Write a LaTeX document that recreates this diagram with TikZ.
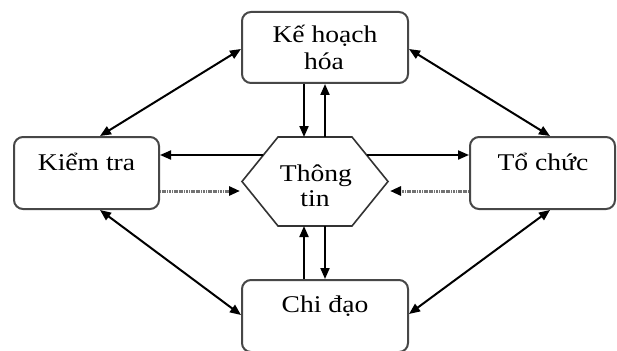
\documentclass[tikz,border=0pt]{standalone}
\usepackage{fontspec}
\setmainfont{Liberation Serif}
\usetikzlibrary{arrows.meta}
\newcommand\wtxt[1]{\scalebox{1.15}[1]{#1}}
\begin{document}
\begin{tikzpicture}[x=1pt,y=-1pt,
  box/.style={draw=black!72, line width=2pt, rounded corners=9pt, fill=white, inner sep=0pt},
  lbl/.style={font=\fontsize{24}{27}\selectfont, anchor=base, inner sep=0pt},
  tip/.style={-{Triangle[length=11pt,width=9pt,color=black]}},
  arr/.style={line width=2pt, tip},
  darr/.style={line width=2pt, {Triangle[length=11pt,width=9pt]}-{Triangle[length=11pt,width=9pt]}},
  dotarr/.style={line width=3pt, draw=black!55, dash pattern=on 1.2pt off 0.5pt, tip}]
\useasboundingbox (0,0) rectangle (617,350);

% boxes
\node[box, minimum width=166pt, minimum height=71pt] (plan) at (325,47.5) {};
\node[box, minimum width=145pt, minimum height=72pt] (kt) at (86.5,173) {};
\node[box, minimum width=145pt, minimum height=72pt] (tc) at (542.5,173) {};
\node[box, minimum width=166pt, minimum height=72pt] (cd) at (325,316) {};

% hexagon
\coordinate (hl) at (242,181.5);
\coordinate (htl) at (278,137);
\coordinate (htr) at (352,137);
\coordinate (hr) at (388,181.5);
\coordinate (hbr) at (352,226);
\coordinate (hbl) at (278,226);
\draw[draw=black!80, line width=1.6pt, fill=white] (hl) -- (htl) -- (htr) -- (hr) -- (hbr) -- (hbl) -- cycle;

% labels
\node[lbl] (t1) at (325,43) {\wtxt{Kế hoạch}};
\node[lbl] (t2) at (324,70) {\wtxt{hóa}};
\node[lbl] (t3) at (86.5,170) {\wtxt{Kiểm tra}};
\node[lbl] (t4) at (543,170) {\wtxt{Tổ chức}};
\node[lbl] (t5) at (316,181) {\wtxt{Thông}};
\node[lbl] (t6) at (315,206) {\wtxt{tin}};
\node[lbl] (t7) at (325,312) {\wtxt{Chi đạo}};

% vertical arrows
\coordinate (va) at (304,137);
\coordinate (vb) at (325,137);
\coordinate (vc) at (304,226);
\coordinate (vd) at (325,226);
\draw[arr] (va |- plan.south) -- (va);
\draw[arr] (vb) -- (vb |- plan.south);
\draw[arr] (vc |- cd.north) -- (vc);
\draw[arr] (vd) -- (vd |- cd.north);

% horizontal arrows
\coordinate (hs1) at (263,155);
\coordinate (hs2) at (367,155);
\coordinate (hd1) at (240,191);
\coordinate (hd2) at (390,191);
\draw[arr] (hs1) -- (hs1 -| kt.east);
\draw[arr] (hs2) -- (hs2 -| tc.west);
\draw[dotarr] (hd1 -| kt.east) -- (hd1);
\draw[dotarr] (hd2 -| tc.west) -- (hd2);

% diagonal arrows
\draw[darr] ([yshift=-1.5pt]plan.west) -- ([xshift=13.5pt]kt.north);
\draw[darr] ([yshift=-1.5pt]plan.east) -- ([xshift=7.5pt]tc.north);
\draw[darr] ([xshift=13.5pt]kt.south) -- ([yshift=1pt]cd.west);
\draw[darr] ([xshift=7.5pt]tc.south) -- ([yshift=2pt]cd.east);
\end{tikzpicture}
\end{document}
